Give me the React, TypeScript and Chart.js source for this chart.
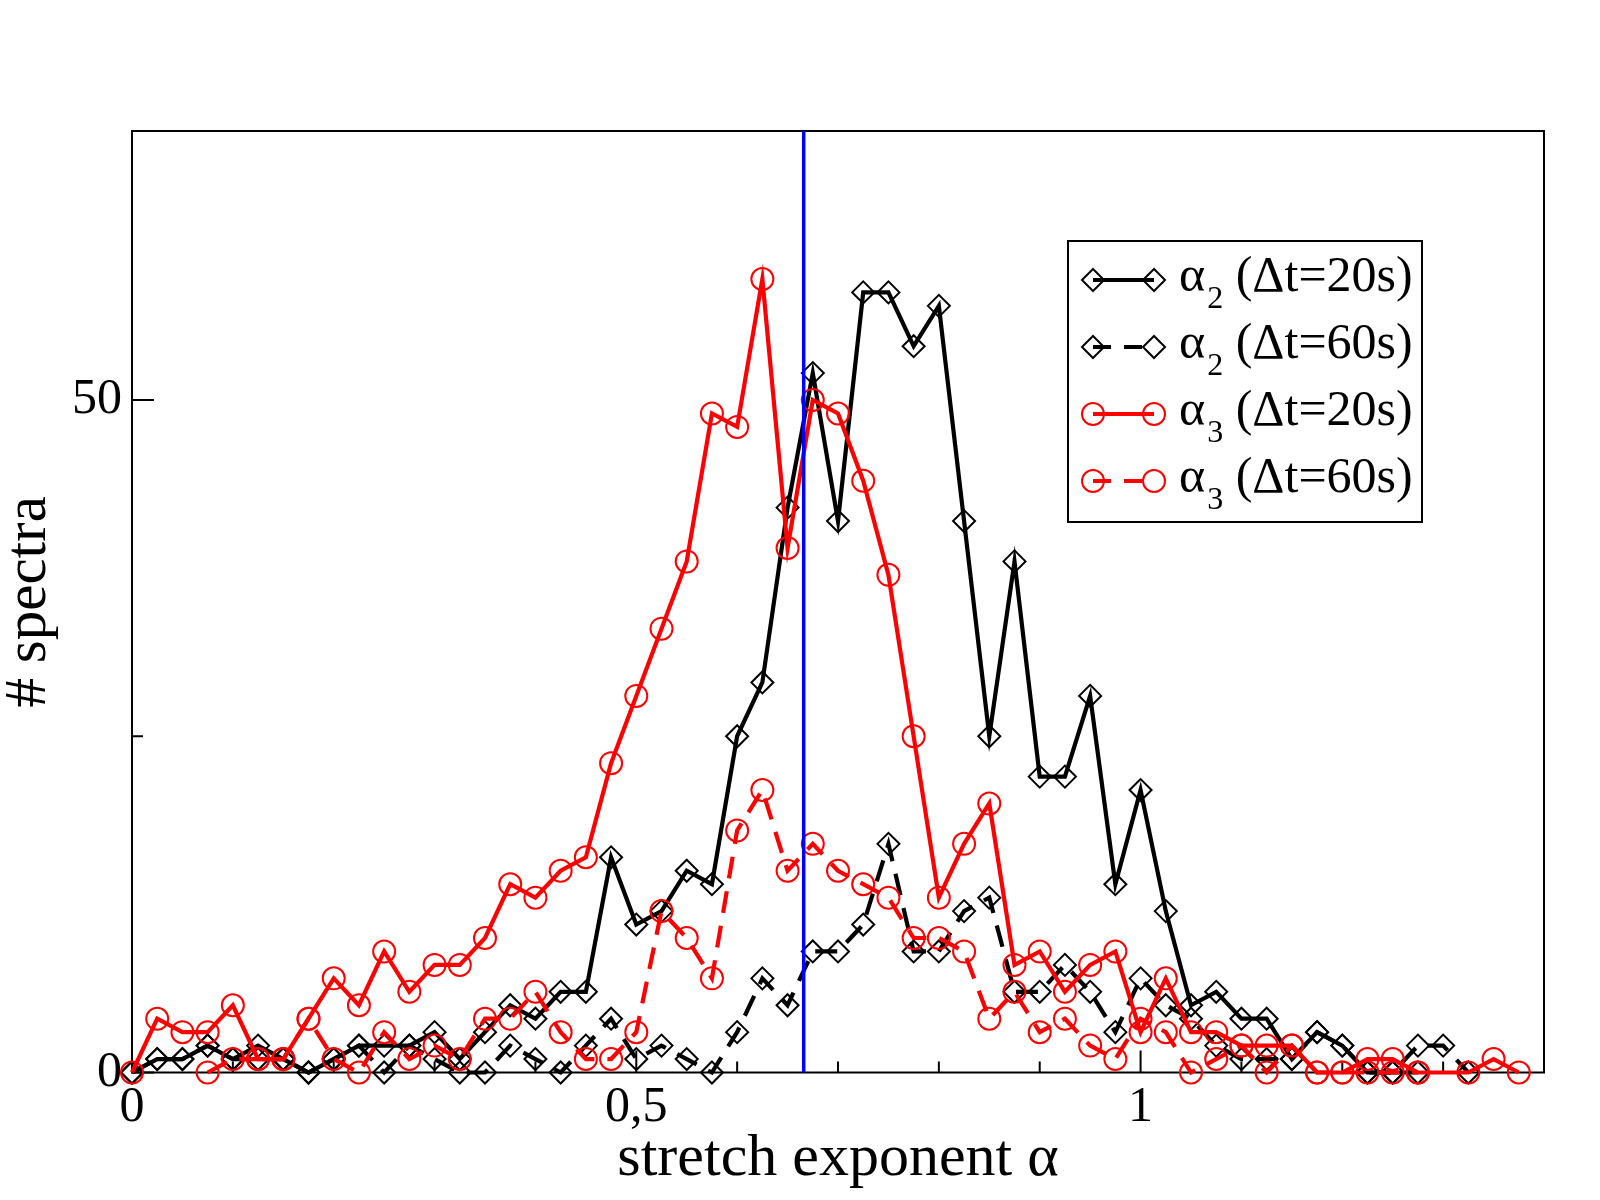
import React, { useEffect, useRef } from "react";
import { Chart, registerables } from "chart.js";

Chart.register(...registerables);

const FONT = "'Liberation Serif', 'Times New Roman', serif";

// stretch exponent bins
const alphaBins = [
  0, 0.025, 0.05, 0.075, 0.1, 0.125, 0.15, 0.175, 0.2, 0.225,
  0.25, 0.275, 0.3, 0.325, 0.35, 0.375, 0.4, 0.425, 0.45, 0.475,
  0.5, 0.525, 0.55, 0.575, 0.6, 0.625, 0.65, 0.675, 0.7, 0.725,
  0.75, 0.775, 0.8, 0.825, 0.85, 0.875, 0.9, 0.925, 0.95, 0.975,
  1, 1.025, 1.05, 1.075, 1.1, 1.125, 1.15, 1.175, 1.2, 1.225,
  1.25, 1.275, 1.3, 1.325, 1.35, 1.375,
];

// alpha_2, dt = 20 s (black solid, diamonds)
const alpha2_20s = [
  0, 1, 1, 2, 1, 2, 1, 0, 1, 2,
  2, 2, 3, 1, 3, 5, 4, 6, 6, 16,
  11, 12, 15, 14, 25, 29, 42, 52, 41, 58,
  58, 54, 57, 41, 25, 38, 22, 22, 28, 14,
  21, 12, 5, 6, 4, 4, 1, 3, 2, 0,
  0, 0, null, null, null, null,
];

// alpha_2, dt = 60 s (black dashed, diamonds)
const alpha2_60s = [
  0, 1, 1, 2, 1, 1, 1, 0, 1, 2,
  0, 2, 1, 0, 0, 2, 1, 0, 2, 4,
  1, 2, 1, 0, 3, 7, 5, 9, 9, 11,
  17, 9, 9, 12, 13, 6, 6, 8, 6, 3,
  7, 5, 4, 2, 1, 1, 1, 3, 2, 0,
  0, 2, 2, 0, null, null,
];

// alpha_3, dt = 20 s (red solid, circles)
const alpha3_20s = [
  0, 4, 3, 3, 5, 1, 1, 4, 7, 5,
  9, 6, 8, 8, 10, 14, 13, 15, 16, 23,
  28, 33, 38, 49, 48, 59, 39, 50, 49, 44,
  37, 25, 13, 17, 20, 8, 9, 6, 8, 9,
  3, 7, 3, 3, 2, 2, 2, 0, 0, 1,
  1, 0, null, 0, 1, 0,
];

// alpha_3, dt = 60 s (red dashed, circles)
const alpha3_60s = [
  null, null, null, 0, 1, 1, 1, 4, 1, 0,
  3, 1, 2, 1, 4, 4, 6, 3, 1, 1,
  3, 12, 10, 7, 18, 21, 15, 17, 15, 14,
  13, 10, 10, 9, 4, 6, 3, 4, 2, 1,
  4, 3, 0, 1, 2, 0, 2, 0, 0, 0,
  0, 0, null, null, null, null,
];

const referenceAlpha = [0.666];
const yRange = [0, 70];
const xRange = [0, 1.4];

const xMajorTicks = [0, 0.5, 1];
const xTickLabels = ["0", "0,5", "1"];
const xMinorTicks = [0.1, 0.2, 0.3, 0.4, 0.6, 0.7, 0.8, 0.9, 1.1, 1.2, 1.3];
const yMajorTicks = [0, 50];
const yTickLabels = ["0", "50"];
const yMinorTicks = [25];

const xTitle = "stretch exponent α";
const yTitle = "# spectra";

const legendSymbol = "α";
const legendSubscripts = ["2", "2", "3", "3"];
const legendRest = ["(Δt=20s)", "(Δt=60s)", "(Δt=20s)", "(Δt=60s)"];
const seriesColors = ["#000000", "#000000", "#ff0000", "#ff0000"];
const seriesMarkers = ["diamond", "diamond", "circle", "circle"];
const seriesDashed = [false, true, false, true];

const DASH = [22, 13];
const LINE_W = 4.2;

function toPoints(values: (number | null)[]) {
  const pts: { x: number; y: number }[] = [];
  values.forEach((v, i) => {
    if (v !== null && v !== undefined) pts.push({ x: alphaBins[i], y: v });
  });
  return pts;
}

function drawMarker(ctx: CanvasRenderingContext2D, kind: string, x: number, y: number, r: number) {
  ctx.beginPath();
  if (kind === "diamond") {
    ctx.moveTo(x - r, y);
    ctx.lineTo(x, y - r);
    ctx.lineTo(x + r, y);
    ctx.lineTo(x, y + r);
    ctx.closePath();
  } else {
    ctx.arc(x, y, r, 0, Math.PI * 2);
  }
  ctx.stroke();
}

const axesPlugin = {
  id: "graceAxes",
  beforeDatasetsDraw(chart: any) {
    const { ctx, chartArea } = chart;
    const xs = chart.scales.x;
    const ys = chart.scales.y;
    ctx.save();
    ctx.strokeStyle = "#000";
    ctx.lineWidth = 2;
    ctx.setLineDash([]);
    ctx.strokeRect(chartArea.left, chartArea.top, chartArea.right - chartArea.left, chartArea.bottom - chartArea.top);
    ctx.beginPath();
    xMajorTicks.forEach((v) => {
      const px = xs.getPixelForValue(v);
      ctx.moveTo(px, chartArea.bottom);
      ctx.lineTo(px, chartArea.bottom - 22);
    });
    xMinorTicks.forEach((v) => {
      const px = xs.getPixelForValue(v);
      ctx.moveTo(px, chartArea.bottom);
      ctx.lineTo(px, chartArea.bottom - 11);
    });
    yMajorTicks.forEach((v) => {
      const py = ys.getPixelForValue(v);
      ctx.moveTo(chartArea.left, py);
      ctx.lineTo(chartArea.left + 22, py);
    });
    yMinorTicks.forEach((v) => {
      const py = ys.getPixelForValue(v);
      ctx.moveTo(chartArea.left, py);
      ctx.lineTo(chartArea.left + 11, py);
    });
    ctx.stroke();
    ctx.restore();
  },
  afterDraw(chart: any) {
    const ctx: CanvasRenderingContext2D = chart.ctx;
    ctx.save();
    ctx.strokeStyle = "#000";
    ctx.lineWidth = 2;
    ctx.setLineDash([]);
    ctx.strokeRect(1068, 241, 354, 281);
    legendRest.forEach((rest, k) => {
      const cy = 280 + k * 67;
      const color = seriesColors[k];
      ctx.strokeStyle = color;
      ctx.lineWidth = LINE_W;
      ctx.setLineDash(seriesDashed[k] ? [18, 13] : []);
      ctx.beginPath();
      ctx.moveTo(1093, cy);
      ctx.lineTo(1154, cy);
      ctx.stroke();
      ctx.setLineDash([]);
      ctx.lineWidth = 2;
      drawMarker(ctx, seriesMarkers[k], 1093, cy, 11);
      drawMarker(ctx, seriesMarkers[k], 1154, cy, 11);
      ctx.fillStyle = "#000";
      ctx.textBaseline = "alphabetic";
      ctx.textAlign = "left";
      let tx = 1179;
      ctx.font = `50px ${FONT}`;
      ctx.fillText(legendSymbol, tx, cy + 11);
      tx += ctx.measureText(legendSymbol).width + 2;
      ctx.font = `32px ${FONT}`;
      ctx.fillText(legendSubscripts[k], tx, cy + 28);
      tx += ctx.measureText(legendSubscripts[k]).width;
      ctx.font = `50px ${FONT}`;
      tx += ctx.measureText(" ").width;
      ctx.fillText(rest, tx, cy + 11);
    });
    ctx.restore();
  },
};

export default function App() {
  const canvasRef = useRef<HTMLCanvasElement | null>(null);

  useEffect(() => {
    if (!canvasRef.current) return;
    const seriesValues = [alpha2_20s, alpha2_60s, alpha3_20s, alpha3_60s];
    const orders = [4, 3, 2, 1];
    const datasets: any[] = seriesValues.map((vals, k) => ({
      label: legendSymbol + legendSubscripts[k] + " " + legendRest[k],
      data: toPoints(vals),
      borderColor: seriesColors[k],
      borderWidth: LINE_W,
      borderDash: seriesDashed[k] ? DASH : [],
      pointStyle: seriesMarkers[k] === "diamond" ? "rectRot" : "circle",
      pointRadius: 11,
      pointBorderWidth: 2,
      pointBorderColor: seriesColors[k],
      pointBackgroundColor: "rgba(0,0,0,0)",
      fill: false,
      tension: 0,
      clip: false,
      order: orders[k],
    }));
    datasets.push({
      label: "reference",
      data: [
        { x: referenceAlpha[0], y: yRange[0] },
        { x: referenceAlpha[0], y: yRange[1] },
      ],
      borderColor: "#0000ff",
      borderWidth: 3.5,
      pointRadius: 0,
      fill: false,
      clip: false,
      order: 0,
    });

    const chart = new Chart(canvasRef.current, {
      type: "line",
      data: { datasets },
      plugins: [axesPlugin],
      options: {
        animation: false,
        responsive: false,
        devicePixelRatio: 1,
        layout: { padding: { top: 131, right: 56, left: 0, bottom: 0 }, autoPadding: false } as any,
        plugins: { legend: { display: false }, tooltip: { enabled: false } },
        scales: {
          x: {
            type: "linear",
            min: xRange[0],
            max: xRange[1],
            grid: { display: false, drawTicks: false },
            border: { display: false },
            afterBuildTicks: (s: any) => {
              s.ticks = xMajorTicks.map((v) => ({ value: v }));
            },
            afterFit: (s: any) => {
              s.height = 127.5;
            },
            ticks: {
              includeBounds: false,
              autoSkip: false,
              maxRotation: 0,
              padding: 5,
              color: "#000",
              font: { family: FONT, size: 50 },
              callback: (_v: any, i: number) => xTickLabels[i],
            },
            title: {
              display: true,
              text: xTitle,
              color: "#000",
              font: { family: FONT, size: 60, lineHeight: 1 },
              padding: { top: 0, bottom: 11 },
            },
          },
          y: {
            type: "linear",
            min: yRange[0],
            max: yRange[1],
            grid: { display: false, drawTicks: false },
            border: { display: false },
            afterBuildTicks: (s: any) => {
              s.ticks = yMajorTicks.map((v) => ({ value: v }));
            },
            afterFit: (s: any) => {
              s.width = 132;
            },
            ticks: {
              includeBounds: false,
              autoSkip: false,
              padding: 10,
              color: "#000",
              font: { family: FONT, size: 50 },
              callback: (_v: any, i: number) => yTickLabels[i],
            },
            title: {
              display: true,
              text: yTitle,
              color: "#000",
              font: { family: FONT, size: 59, lineHeight: 1 },
              padding: { top: 0, bottom: 0 },
            },
          },
        },
      } as any,
    });
    return () => chart.destroy();
  }, []);

  return (
    <div style={{ position: "absolute", left: 0, top: 0, width: 1600, height: 1200, background: "#fff" }}>
      <canvas ref={canvasRef} width={1600} height={1200} style={{ width: 1600, height: 1200, display: "block" }} />
    </div>
  );
}
